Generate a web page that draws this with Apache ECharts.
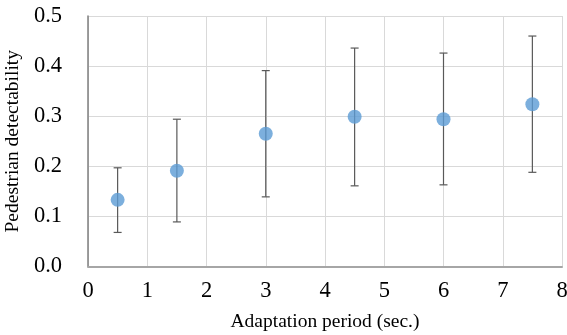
<!DOCTYPE html>
<html>
<head>
<meta charset="utf-8">
<script src="https://cdn.jsdelivr.net/npm/echarts@6/dist/echarts.min.js"></script>
<style>html,body{margin:0;padding:0;background:#fff}#c{width:567px;height:335px}</style>
</head>
<body>
<div id="c"></div>
<script>
var periods = [0.5, 1.5, 3, 4.5, 6, 7.5];
var detectability = [0.133, 0.191, 0.265, 0.299, 0.294, 0.324];
var errLow = [0.068, 0.089, 0.139, 0.161, 0.163, 0.188];
var errHigh = [0.197, 0.294, 0.391, 0.436, 0.426, 0.460];
var xTicks = [0, 1, 2, 3, 4, 5, 6, 7, 8];
var yTicks = [0.0, 0.1, 0.2, 0.3, 0.4, 0.5];

var font = '"Liberation Serif", "Times New Roman", serif';
var chart = echarts.init(document.getElementById('c'));
chart.setOption({
  animation: false,
  grid: {left: 88, right: 5, top: 16, bottom: 68.5, containLabel: false, outerBoundsMode: 'none'},
  xAxis: {
    type: 'value', min: 0, max: 8, interval: 1,
    name: 'Adaptation period (sec.)', nameLocation: 'middle', nameGap: 45,
    nameTextStyle: {fontFamily: font, fontSize: 19.5, color: '#000'},
    axisLine: {show: true, lineStyle: {color: '#a6a6a6', width: 2}},
    axisTick: {show: false},
    axisLabel: {fontFamily: font, fontSize: 22.5, color: '#000', margin: 13,
      formatter: function (v) { return xTicks.indexOf(v) >= 0 ? String(v) : ''; }},
    splitLine: {show: true, lineStyle: {color: '#d9d9d9', width: 1}}
  },
  yAxis: {
    type: 'value', min: 0, max: 0.5, interval: 0.1,
    name: 'Pedestrian detectability', nameLocation: 'middle', nameGap: 61, nameRotate: 90,
    nameTextStyle: {fontFamily: font, fontSize: 19.5, color: '#000'},
    axisLine: {show: true, lineStyle: {color: '#7f7f7f', width: 1.5}},
    axisTick: {show: false},
    axisLabel: {fontFamily: font, fontSize: 22.5, color: '#000', margin: 26,
      formatter: function (v) { return v.toFixed(1); }},
    splitLine: {show: true, lineStyle: {color: '#d9d9d9', width: 1}}
  },
  series: [
    {
      type: 'custom',
      data: periods.map(function (p, i) { return [p, errLow[i], errHigh[i]]; }),
      renderItem: function (params, api) {
        var lo = api.coord([api.value(0), api.value(1)]);
        var hi = api.coord([api.value(0), api.value(2)]);
        var hw = 4;
        var st = {stroke: '#595959', lineWidth: 1.2};
        return {
          type: 'group',
          children: [
            {type: 'line', shape: {x1: lo[0], y1: lo[1], x2: hi[0], y2: hi[1]}, style: st},
            {type: 'line', shape: {x1: lo[0] - hw, y1: lo[1], x2: lo[0] + hw, y2: lo[1]}, style: st},
            {type: 'line', shape: {x1: hi[0] - hw, y1: hi[1], x2: hi[0] + hw, y2: hi[1]}, style: st}
          ]
        };
      },
      z: 2
    },
    {
      type: 'scatter',
      data: periods.map(function (p, i) { return [p, detectability[i]]; }),
      symbol: 'circle', symbolSize: 14,
      itemStyle: {color: '#5b9bd5'},
      z: 3
    }
  ]
});
</script>
</body>
</html>
